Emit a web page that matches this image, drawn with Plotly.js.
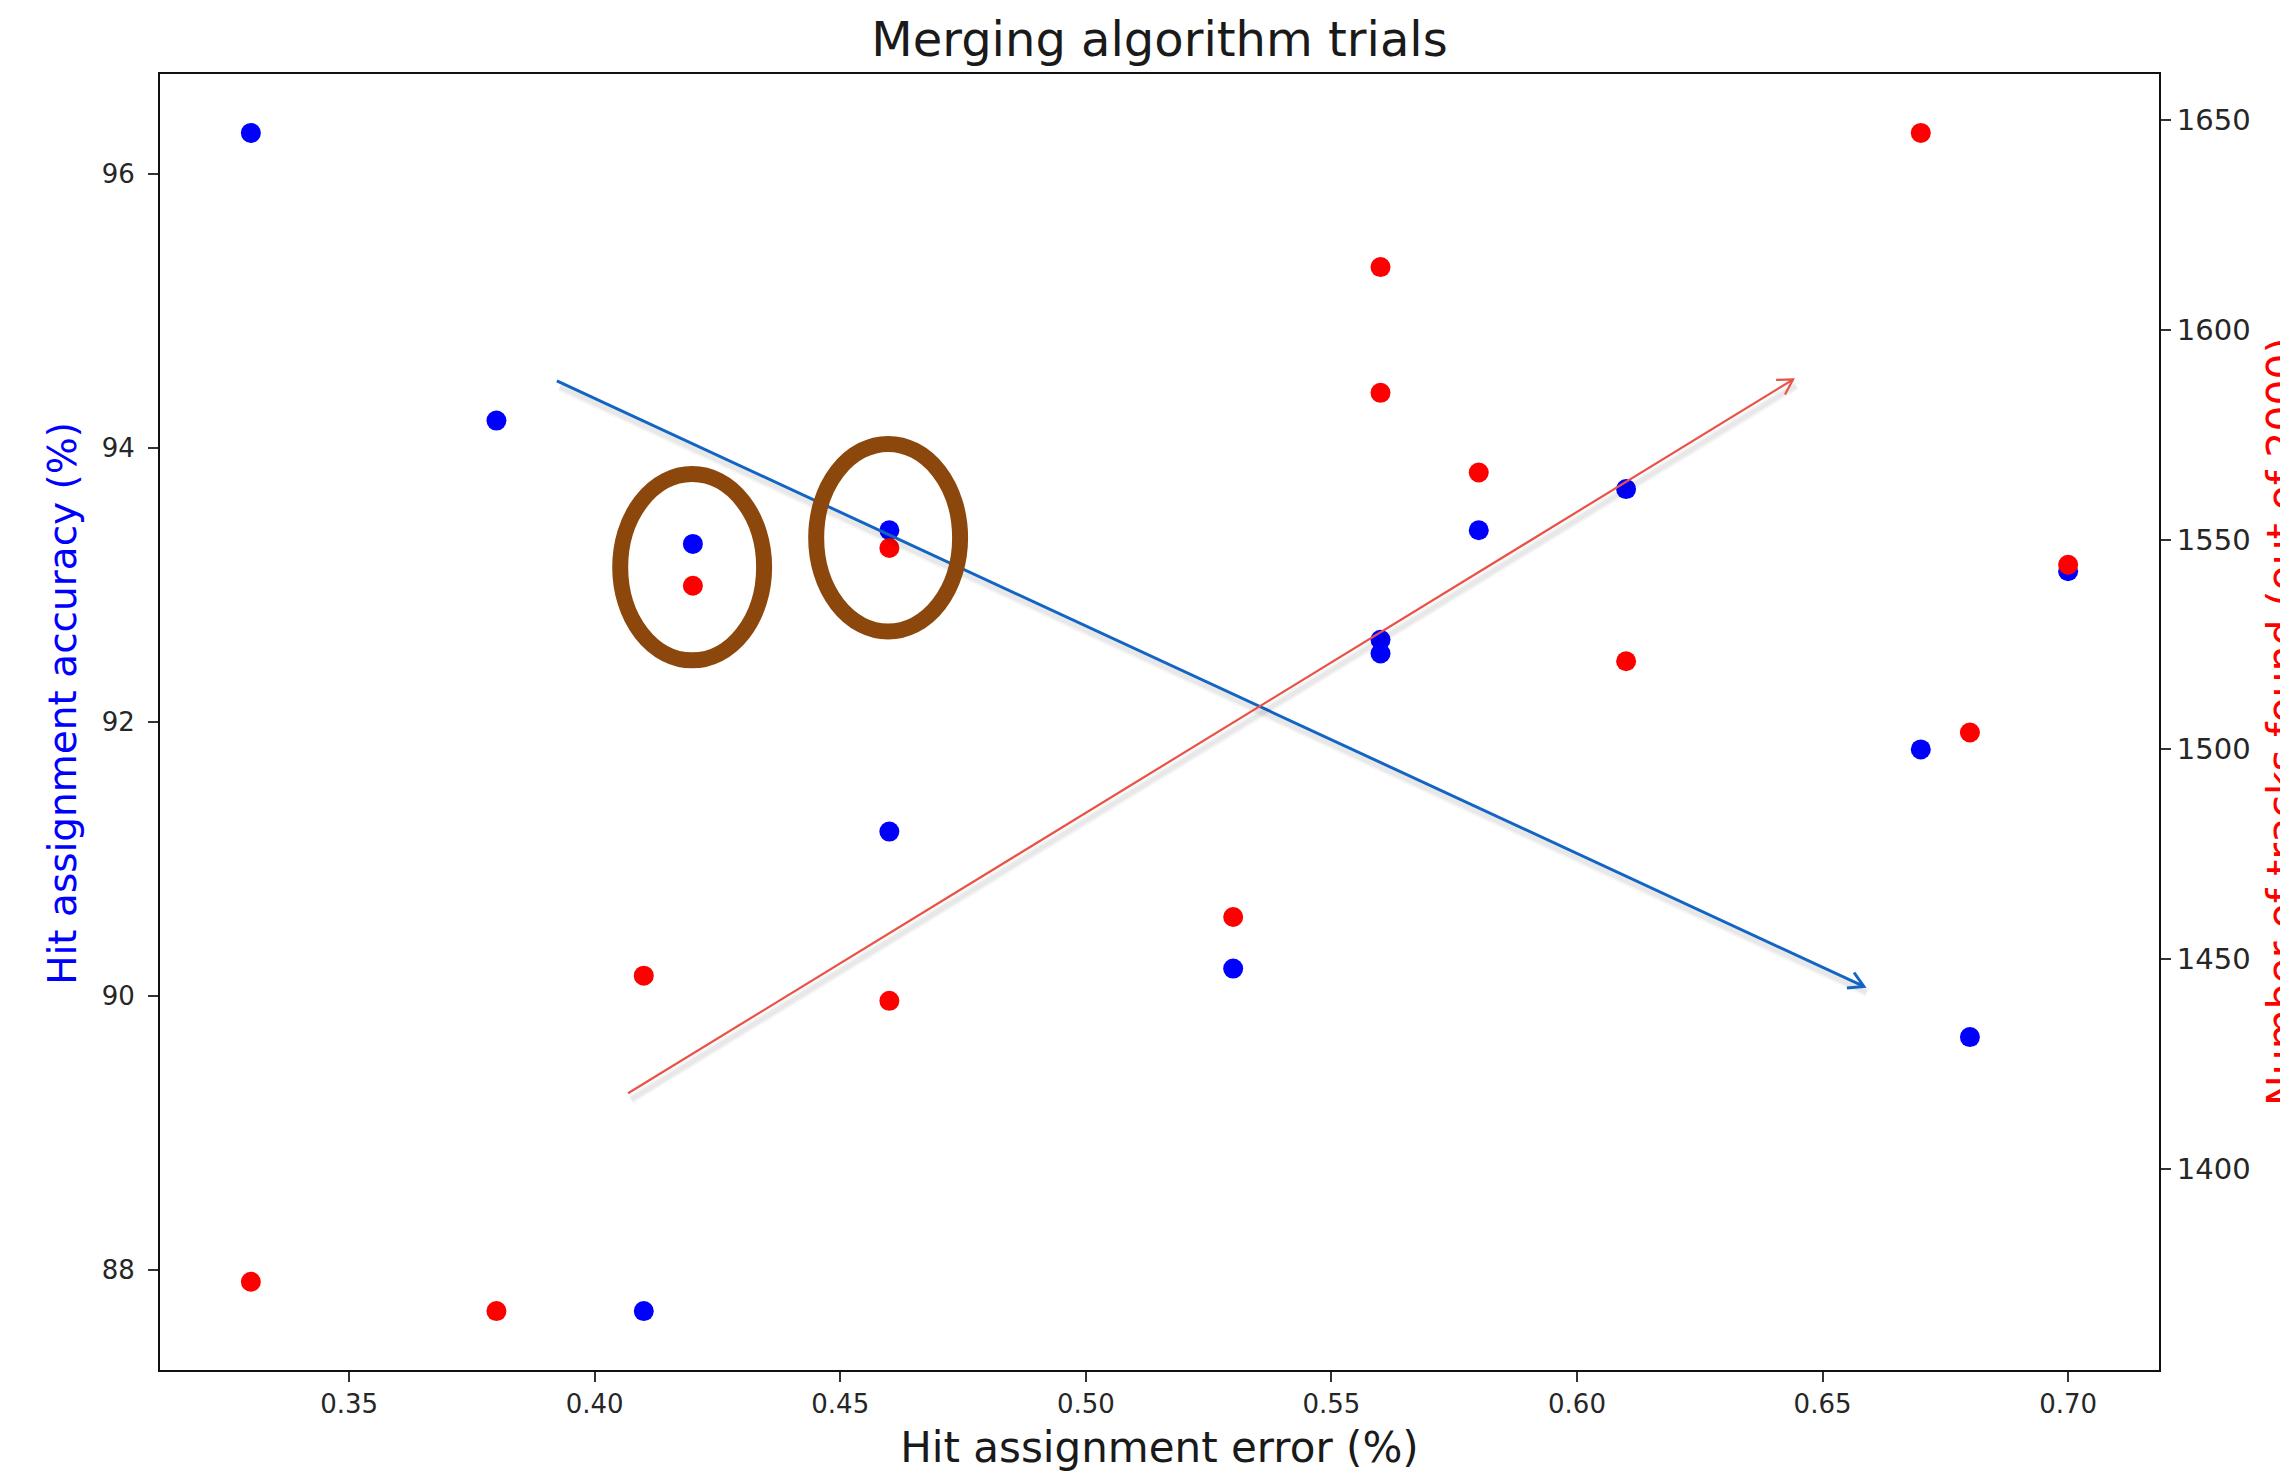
<!DOCTYPE html>
<html>
<head>
<meta charset="utf-8">
<script src="https://cdn.plot.ly/plotly-3.0.1.min.js"></script>
<style>
  html, body { margin: 0; padding: 0; background: #fff; }
  #chart { width: 2280px; height: 1472px; }
</style>
</head>
<body>
<div id="chart"></div>
<script>
// Merging algorithm trials: accuracy (left axis) and tracks found (right axis)
// plotted against hit assignment error for each trial.
const assignmentError = [0.33, 0.38, 0.41, 0.42, 0.46, 0.46, 0.53, 0.56, 0.56, 0.58, 0.61, 0.67, 0.68, 0.70];
const hitAccuracy     = [96.3, 94.2, 87.7, 93.3, 93.4, 91.2, 90.2, 92.6, 92.5, 93.4, 93.7, 91.8, 89.7, 93.1];
const tracksFound     = [1373, 1366, 1446, 1539, 1548, 1440, 1460, 1615, 1585, 1566, 1521, 1647, 1504, 1544];

const errorTicks    = [0.35, 0.40, 0.45, 0.50, 0.55, 0.60, 0.65, 0.70];
const accuracyTicks = [88, 90, 92, 94, 96];
const trackTicks    = [1400, 1450, 1500, 1550, 1600, 1650];

// Hand-drawn trend arrows and highlight rings, placed on the x / left-y axes.
const trendArrows = [
  { from: [0.3923, 94.49], to: [0.6584, 90.07], color: '#1464C4', width: 3 },
  { from: [0.4068, 89.29], to: [0.6440, 94.50], color: '#EA5247', width: 2.2 }
];
const highlightRings = [
  { x: [0.4052, 0.4345], y: [92.45, 93.81] },
  { x: [0.4451, 0.4744], y: [92.66, 94.03] }
];

const W = 2280, H = 1472;
const M = { l: 160, r: 121, t: 74, b: 102 };
const plotW = W - M.l - M.r, plotH = H - M.t - M.b;

// matplotlib-style 5% padding around the data
function padded(vals) {
  const lo = Math.min(...vals), hi = Math.max(...vals), p = (hi - lo) * 0.05;
  return [lo - p, hi + p];
}
const xRange = padded(assignmentError);
const yRange = padded(hitAccuracy);
const y2Range = padded(tracksFound);

const kx = plotW / (xRange[1] - xRange[0]);
const ky = plotH / (yRange[1] - yRange[0]);

const shapes = [];

trendArrows.forEach(a => {
  // arrow drawn in pixels, anchored at its tip
  const sx = (a.from[0] - a.to[0]) * kx;
  const sy = (a.from[1] - a.to[1]) * ky;
  const len = Math.hypot(sx, sy);
  const bx = sx / len, by = sy / len;
  const L = 17, th = 30 * Math.PI / 180;
  const arm = s => [L * (bx * Math.cos(s * th) - by * Math.sin(s * th)),
                    L * (bx * Math.sin(s * th) + by * Math.cos(s * th))];
  const a1 = arm(1), a2 = arm(-1);
  const base = {
    type: 'path', xref: 'x', yref: 'y', xsizemode: 'pixel', ysizemode: 'pixel',
    xanchor: a.to[0], yanchor: a.to[1], layer: 'above'
  };
  // soft drop shadow
  [[9, 'rgba(0,0,0,0.04)'], [5, 'rgba(0,0,0,0.05)']].forEach(([w, c]) => {
    shapes.push(Object.assign({}, base, {
      path: `M${sx + 3},${sy - 6} L3,-6`,
      line: { color: c, width: w }
    }));
  });
  shapes.push(Object.assign({}, base, {
    path: `M${sx},${sy} L0,0`,
    line: { color: a.color, width: a.width }
  }));
  shapes.push(Object.assign({}, base, {
    path: `M${a1[0]},${a1[1]} L0,0 L${a2[0]},${a2[1]}`,
    line: { color: a.color, width: a.width }
  }));
});

highlightRings.forEach(r => {
  shapes.push({
    type: 'circle', xref: 'x', yref: 'y',
    x0: r.x[0], x1: r.x[1], y0: r.y[0], y1: r.y[1],
    line: { color: '#8C480C', width: 16 }, layer: 'above'
  });
});

const traces = [
  {
    x: assignmentError, y: hitAccuracy, yaxis: 'y',
    type: 'scatter', mode: 'markers',
    marker: { color: '#0000FF', size: 20 }, name: 'accuracy'
  },
  {
    x: assignmentError, y: tracksFound, yaxis: 'y2',
    type: 'scatter', mode: 'markers',
    marker: { color: '#FF0000', size: 20 }, name: 'tracks'
  }
];

const tickFont = { family: 'DejaVu Sans', size: 26, color: '#262626' };
const axisCommon = {
  showline: true, linecolor: '#111', linewidth: 2,
  ticks: 'outside', ticklen: 10, tickwidth: 2, tickcolor: '#333',
  showgrid: false, zeroline: false, tickfont: tickFont
};

// Vertical axis titles are set as rotated annotations so they can sit
// exactly where wanted (the right one runs past the page edge).
const sideTitles = [
  { text: 'Hit assignment accuracy (%)', color: '#0000FF', size: 39,
    x: (63 - M.l) / plotW, xanchor: 'center', y: 0.514 },
  { text: 'Number of tracks found (out of 2000)', color: '#FF0000', size: 41,
    x: (2256 - M.l) / plotW, xanchor: 'left', y: 0.5 }
];

const layout = {
  width: W, height: H,
  margin: M,
  paper_bgcolor: '#fff', plot_bgcolor: '#fff',
  showlegend: false, hovermode: false,
  font: { family: 'DejaVu Sans' },
  title: {
    text: 'Merging algorithm trials',
    font: { family: 'DejaVu Sans', size: 48, color: '#1a1a1a' },
    x: 0.5, xref: 'paper', xanchor: 'center',
    y: 1 - 39 / H, yref: 'container', yanchor: 'middle'
  },
  xaxis: Object.assign({}, axisCommon, {
    range: xRange, tickvals: errorTicks, tickformat: '.2f',
    mirror: true,
    title: { text: 'Hit assignment error (%)', standoff: 17,
             font: { family: 'DejaVu Sans', size: 42, color: '#1a1a1a' } }
  }),
  yaxis: Object.assign({}, axisCommon, {
    range: yRange, tickvals: accuracyTicks, mirror: true,
    ticklabelstandoff: 8
  }),
  yaxis2: Object.assign({}, axisCommon, {
    range: y2Range, tickvals: trackTicks,
    overlaying: 'y', side: 'right', anchor: 'x',
    tickfont: Object.assign({}, tickFont, { size: 29 })
  }),
  annotations: sideTitles.map(t => ({
    text: t.text, textangle: -90, showarrow: false,
    xref: 'paper', yref: 'paper', x: t.x, y: t.y,
    xanchor: t.xanchor, yanchor: 'middle',
    font: { family: 'DejaVu Sans', size: t.size, color: t.color }
  })),
  shapes: shapes
};

Plotly.newPlot('chart', traces, layout, { staticPlot: true, displayModeBar: false });
</script>
</body>
</html>
